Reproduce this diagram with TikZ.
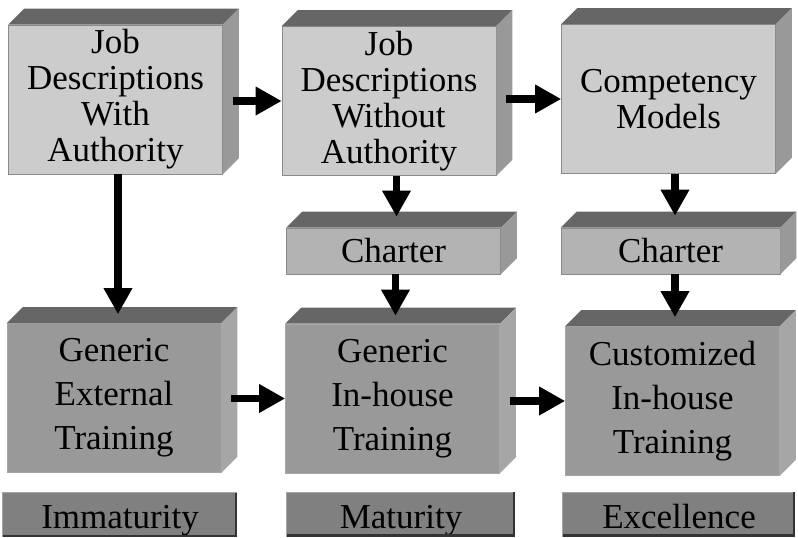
\documentclass[tikz,border=0pt]{standalone}
\usepackage{fontspec}
\setmainfont{Liberation Serif}
\usepackage{tikz}
\usetikzlibrary{arrows.meta,calc}
\definecolor{frontlight}{HTML}{CCCCCC}
\definecolor{frontmid}{HTML}{B3B3B3}
\definecolor{frontdark}{HTML}{999999}
\definecolor{topface}{HTML}{666666}
\definecolor{sidelight}{HTML}{A6A6A6}
\definecolor{sidedark}{HTML}{999999}
\definecolor{stage}{HTML}{808080}
\definecolor{rim}{HTML}{8A8A8A}

\begin{document}
\begin{tikzpicture}[x=1pt, y=1pt,
  box/.style={draw=rim, line width=0.6pt, inner sep=0pt, align=center, minimum width=214pt, minimum height=149pt},
  upper/.style={box, fill=frontlight, font=\fontsize{35}{36}\selectfont},
  lower/.style={box, fill=frontdark, draw=sidelight, font=\fontsize{35}{44}\selectfont},
  bar/.style={box, fill=frontmid, minimum height=46pt, text height=35pt, text depth=11pt, font=\fontsize{35}{36}\selectfont},
  stagebox/.style={fill=stage, inner sep=0pt, minimum height=44pt, text height=36pt, text depth=8pt, font=\fontsize{35}{36}\selectfont},
  arr/.style={-{Triangle[length=26pt, width=27pt]}, line width=7.5pt}]
\useasboundingbox (0,0) rectangle (798,538);
% front faces
\node[upper] (jdw) at (115.5,438.5) {Job\\Descriptions\\With\\Authority};
\node[upper] (jdwo) at (389,437) {Job\\Descriptions\\Without\\Authority};
\node[upper] (comp) at (668.5,439) {Competency\\Models};
\node[bar] (ch1) at (393.5,287) {Charter};
\node[bar, minimum width=219pt] (ch2) at (670.5,287) {Charter};
\node[lower] (genext) at (114,140) {Generic\\External\\Training};
\node[lower] (genin) at (392.5,139.5) {Generic\\In-house\\Training};
\node[lower] (cust) at (672.5,137) {Customized\\In-house\\Training};
% top and side faces
\foreach \n/\sc in {jdw/sidedark, jdwo/sidedark, comp/sidedark, ch1/sidedark, ch2/sidedark, genext/sidelight, genin/sidelight, cust/sidelight} {
  \fill[topface] (\n.north west) -- ++(16,16) -- ($(\n.north east)+(16,16)$) -- (\n.north east) -- cycle;
  \fill[\sc] (\n.north east) -- ++(16,16) -- ($(\n.south east)+(16,16)$) -- (\n.south east) -- cycle;
}
% stages
\node[stagebox, minimum width=234pt] (imm) at (120,23) {Immaturity};
\node[stagebox, minimum width=228pt] (mat) at (401,23.5) {Maturity};
\node[stagebox, minimum width=232pt] (exc) at (679,23.5) {Excellence};
\foreach \n in {imm, mat, exc} {
  \draw[sidelight, line width=1pt] (\n.south west) -- (\n.north west) -- (\n.north east);
  \draw[black!80, line width=2.5pt] ([xshift=-1.2pt]\n.north east) -- ([shift={(-1.2pt,1.2pt)}]\n.south east) -- ([yshift=1.2pt]\n.south west);
}
% arrows
\draw[arr] ([xshift=10pt]jdw.east |- jdwo.west) -- (jdwo.west);
\draw[arr] ([xshift=10pt]jdwo.east |- comp.west) -- (comp.west);
\draw[arr] ([xshift=10pt]genext.east |- genin.west) -- (genin.west);
\draw[arr] ([xshift=10pt]genin.east |- cust.west) -- (cust.west);
\draw[arr] ([xshift=4pt]genext.north |- jdw.south) -- ([shift={(4pt,9pt)}]genext.north);
\draw[arr] ([xshift=3pt]ch1.north |- jdwo.south) -- ([shift={(3pt,11pt)}]ch1.north);
\draw[arr] ([xshift=3pt]genin.north |- ch1.south) -- ([shift={(3pt,8pt)}]genin.north);
\draw[arr] ([xshift=4.5pt]ch2.north |- comp.south) -- ([shift={(4.5pt,12pt)}]ch2.north);
\draw[arr] ([xshift=2.5pt]cust.north |- ch2.south) -- ([shift={(2.5pt,9pt)}]cust.north);
\end{tikzpicture}
\end{document}
